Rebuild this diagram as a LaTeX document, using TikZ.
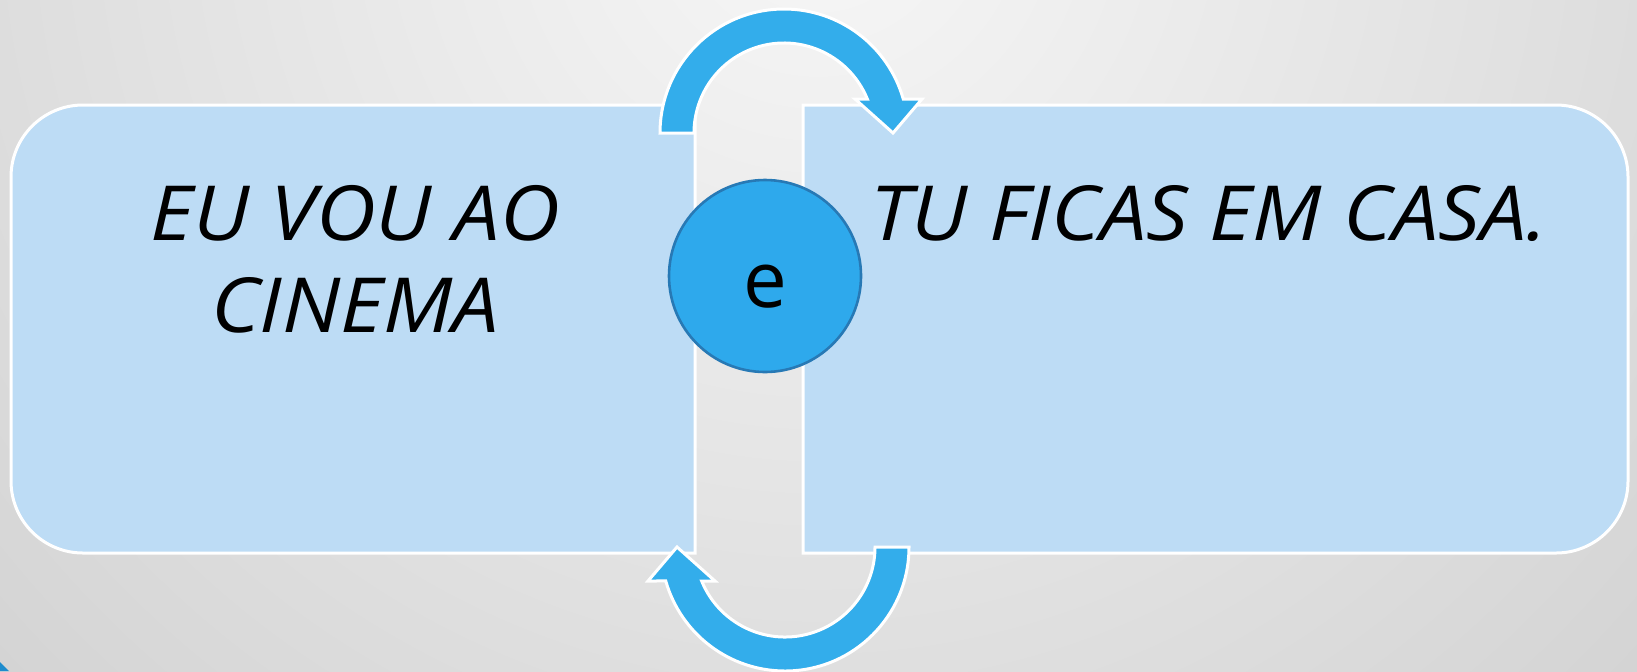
\documentclass[tikz,border=0pt]{standalone}
\usepackage{fontspec}
\setmainfont{Open Sans}
\newfontfamily\boxfont[FakeStretch=1.09]{Open Sans}
\usetikzlibrary{calc}
\definecolor{boxfill}{RGB}{189,220,245}
\definecolor{arrowblue}{RGB}{51,173,235}
\definecolor{circfill}{RGB}{46,169,236}
\definecolor{circline}{RGB}{39,121,181}
\definecolor{bgin}{RGB}{247,247,247}
\definecolor{bgout}{RGB}{208,208,208}
\definecolor{cornerblue}{RGB}{30,140,205}
\pgfdeclareradialshading{bgshade}{\pgfpoint{0bp}{0bp}}{color(0bp)=(bgin); color(25bp)=(bgout); color(50bp)=(bgout)}
\begin{document}
\begin{tikzpicture}[x=0.5pt,y=-0.5pt,
  boxstyle/.style={fill=boxfill, draw=white, line width=1.5pt},
  arrowstyle/.style={fill=arrowblue, draw=white, line width=1.5pt, line join=miter},
  txt/.style={font=\boxfont\itshape\fontsize{38}{46}\selectfont, align=center, inner sep=0pt, text=black},
  conj/.style={circle, fill=circfill, draw=circline, line width=1.3pt, minimum size=96pt,
    inner sep=0pt, font=\fontsize{39}{47}\selectfont, text height=31pt, text depth=0pt}]
\useasboundingbox (0,0) rectangle (1637,671);
\clip (0,0) rectangle (1637,671);
\shade[shading=bgshade] (818,-100) circle[radius=1250];
\fill[cornerblue] (0,662) -- (9,671) -- (0,671) -- cycle;
% boxes
\coordinate (C1) at (784,133);
\coordinate (C2) at (785,547);
\path[boxstyle] (695,105) -- (83,105) arc[start angle=270, end angle=180, radius=72]
  -- (11,481) arc[start angle=180, end angle=90, radius=72] -- (695,553) -- cycle;
\path[boxstyle] (803,105) -- (1556,105) arc[start angle=270, end angle=360, radius=72]
  -- (1628,481) arc[start angle=0, end angle=90, radius=72] -- (803,553) -- cycle;
% text
\node[txt, anchor=base] (lefttext) at (355,332) {EU VOU AO\\CINEMA};
\node[txt, anchor=base] (righttext) at (1209,240) {TU FICAS EM CASA.};
% top arrow
\path[arrowstyle] ($(C1)+(180:124)$) arc[start angle=180, end angle=344.1, radius=124]
  -- (922,99) -- (893,133) -- (855,99) -- ($(C1)+(337.8:90)$)
  arc[start angle=337.8, end angle=180, radius=90] -- cycle;
% bottom arrow
\path[arrowstyle] ($(C2)+(0:124)$) arc[start angle=0, end angle=164.1, radius=124]
  -- (648,581) -- (677,547) -- (715,581) -- ($(C2)+(157.8:90)$)
  arc[start angle=157.8, end angle=0, radius=90] -- cycle;
% circle
\node[conj] (e) at (765,276) {e};
\end{tikzpicture}
\end{document}
